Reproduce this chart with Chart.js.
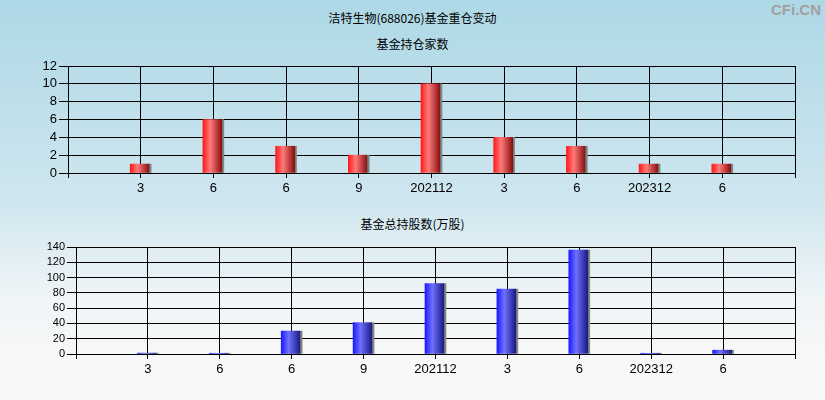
<!DOCTYPE html>
<html>
<head>
<meta charset="utf-8">
<script src="https://cdn.jsdelivr.net/npm/chart.js@4/dist/chart.umd.min.js"></script>
<style>
  html, body { margin: 0; padding: 0; }
  body {
    width: 825px; height: 400px; position: relative; overflow: hidden;
    background: linear-gradient(to bottom, #add8e6 0%, #cfe6ef 50%, #f0f5f7 75%, #f8f8f8 90%, #f8f8f8 100%);
    font-family: "Noto Sans CJK SC", sans-serif;
  }
  .title { position: absolute; left: 0; width: 825px; text-align: center; font-size: 12px; color: #000; line-height: 14px; }
  #logo { position: absolute; right: 4px; top: 1px; font-family: "Liberation Sans", Arial, sans-serif;
          font-size: 15px; font-weight: bold; color: #a0a0a0; }
  canvas { position: absolute; left: 0; }
</style>
</head>
<body>
<div class="title" style="top:11px">洁特生物(688026)基金重仓变动</div>
<div class="title" style="top:37px">基金持仓家数</div>
<div class="title" style="top:217px">基金总持股数(万股)</div>
<div id="logo">CFi.CN</div>
<div style="position:absolute;left:0;top:0;width:825px;height:200px"><canvas id="c1"></canvas></div>
<div style="position:absolute;left:0;top:200px;width:825px;height:200px"><canvas id="c2"></canvas></div>

<script>
// category labels (first and last slot are empty edges)
const periods = ['', '3', '6', '6', '9', '202112', '3', '6', '202312', '6', ''];
// fund count
const fundCount = [null, 1, 6, 3, 2, 10, 4, 3, 1, 1, null];
// total shares held (10k shares)
const fundShares = [null, 1.2, 1, 30, 41, 92, 85, 136, 1, 5, null];

function barGradient(colors) {
  return (ctx) => {
    const chart = ctx.chart;
    const xScale = chart.scales.x;
    if (!xScale || ctx.dataIndex === undefined) return colors[1];
    const cx = xScale.getPixelForValue(ctx.dataIndex);
    if (!isFinite(cx)) return colors[1];
    const g = chart.ctx.createLinearGradient(cx - 10.5, 0, cx + 10.5, 0);
    g.addColorStop(0, colors[0]);
    g.addColorStop(0.35, colors[1]);
    g.addColorStop(0.9, colors[2]);
    g.addColorStop(0.91, '#6a6a6a');
    g.addColorStop(1, '#8a9090');
    return g;
  };
}

function makeChart(id, data, colors, yMax, yStep, yFont, pad, xHeight, yWidth) {
  return new Chart(document.getElementById(id), {
    type: 'bar',
    data: {
      labels: periods,
      datasets: [{
        data: data,
        backgroundColor: barGradient(colors),
        barThickness: 21,
        borderWidth: 0
      }]
    },
    options: {
      responsive: true,
      maintainAspectRatio: false,
      animation: false,
      layout: { padding: { left: 0, right: 30, top: pad, bottom: 0 } },
      plugins: { legend: { display: false }, title: { display: false }, tooltip: { enabled: false } },
      scales: {
        x: {
          offset: false,
          grid: { color: '#000', lineWidth: 1, tickLength: 5, offset: false },
          border: { color: '#000' },
          ticks: { color: '#000', font: { family: 'Liberation Sans', size: 13 }, padding: 3, maxRotation: 0, autoSkip: false },
          afterFit: (s) => { s.height = xHeight; }
        },
        y: {
          min: 0, max: yMax,
          grid: { color: '#000', lineWidth: 1, tickLength: 9 },
          border: { color: '#000' },
          ticks: { stepSize: yStep, autoSkip: false, color: '#000', font: { family: 'Liberation Sans', size: yFont }, padding: 2 },
          afterFit: (s) => { s.width = yWidth; }
        }
      }
    }
  });
}

makeChart('c1', fundCount, ['#ff1a1a', '#ff7a7a', '#8a0f0f'], 12, 2, 13, 66, 27, 68);
makeChart('c2', fundShares, ['#1a1aff', '#7070ff', '#1a1a85'], 140, 20, 11, 47, 46, 76);
</script>
</body>
</html>
